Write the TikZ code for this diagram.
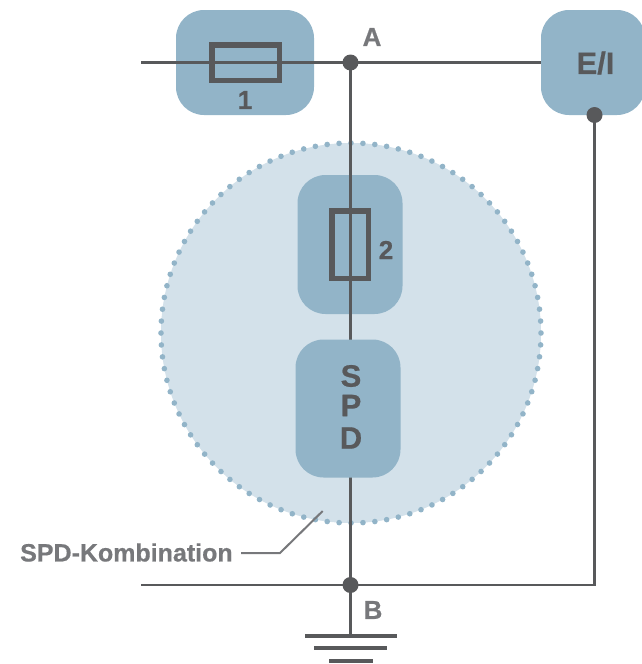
\documentclass[tikz,border=0pt]{standalone}
\usepackage{fontspec}
\setmainfont[BoldFeatures={FakeBold=0.6}]{Liberation Sans}
\definecolor{wire}{HTML}{58595B}
\definecolor{lab}{HTML}{77787B}
\definecolor{boxblue}{HTML}{92B4C8}
\definecolor{halo}{HTML}{D3E1EA}
\newcommand{\fs}[1]{\fontsize{#1}{#1}\selectfont\bfseries}
\tikzset{
  blue box/.style={draw=none,fill=boxblue,rounded corners=28,rectangle,inner sep=0},
  fuse/.style={draw=wire,line width=5.5,rectangle,inner sep=0},
  wireline/.style={draw=wire,line width=2.7},
  junction/.style={circle,fill=wire,minimum size=16,inner sep=0},
  gndbar/.style={rectangle,fill=wire,minimum height=4.5,inner sep=0},
  mark label/.style={text=lab,inner sep=0,font=\fs{26}},
  dark label/.style={text=wire,inner sep=0},
}
\begin{document}
\begin{tikzpicture}[x=1pt,y=-1pt]
\useasboundingbox (0,0) rectangle (642,664);
\node[circle,inner sep=0,minimum size=380,fill=halo,draw=boxblue,line width=5.6,line cap=round,dash pattern=on 0pt off 11.94pt] (combo) at (351,333) {};
\node[blue box,minimum width=138,minimum height=105] (box1) at (245,62.5) {};
\node[blue box,minimum width=105,minimum height=139] (box2) at (350,244.5) {};
\node[blue box,minimum width=104,minimum height=105] (ei) at (593,62.5) {};
\node[junction] (A) at (350.5,62.5) {};
\node[junction] (B) at (350.5,585) {};
\node[junction] (E) at (594.5,115) {};
\node[gndbar,minimum width=92] (g1) at (350.5,636) {};
\node[gndbar,minimum width=73] (g2) at (350.5,648) {};
\node[gndbar,minimum width=44] (g3) at (350.5,661) {};
\coordinate (wl) at (141,62.5);
\coordinate (bl) at (141,585);
\draw[wireline] (wl) -- (A.center) -- (ei.west);
\draw[wireline] (A.center) -- (B.center) -- (g1.north);
\draw[wireline] (bl) -- (B.center);
\draw[wireline] (E.center) |- (B.center);
\node[fuse,minimum width=67.5,minimum height=35.5] (f1) at (245.5,62.5) {};
\node[fuse,minimum width=36.5,minimum height=67.5] (f2) at (350,244.5) {};
\node[blue box,minimum width=105,minimum height=138] (spd) at (348,408.5) {};
\node[dark label,font=\fs{26}] (n1) at (245,100) {1};
\node[dark label,font=\fs{26}] (n2) at (386,250) {2};
\node[dark label,font=\fs{31}] (s) at (351,376) {S};
\node[dark label,font=\fs{31}] (p) at (351,405.5) {P};
\node[dark label,font=\fs{31}] (d) at (351,438) {D};
\node[dark label,font=\fs{31}] (eit) at (595.5,63) {E/I};
\node[mark label] (la) at (372,37) {A};
\node[mark label] (lb) at (373,610) {B};
\node[mark label,anchor=west,font=\fs{25}] (sk) at (20,552.5) {SPD-Kombination};
\coordinate (elbow) at (280,553);
\coordinate (tip) at (322.7,511);
\draw[draw=lab,line width=2] (241,553) -- (elbow) -- (tip);
\end{tikzpicture}
\end{document}
